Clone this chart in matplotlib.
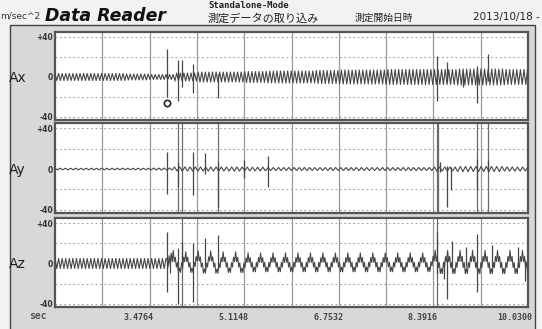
import numpy as np
import matplotlib
matplotlib.use("Agg")
import matplotlib.pyplot as plt
from matplotlib.patches import Rectangle

# ---- time axis (seconds) ----
t_start, t_end = 1.8380, 10.0300
tick_values = [3.4764, 5.1148, 6.7532, 8.3916, 10.0300]
tick_labels = ["3.4764", "5.1148", "6.7532", "8.3916", "10.0300"]
n_div = 10
y_ticks = [40, 0, -40]
y_tick_labels = ["+40", "0", "-40"]

# ---- vibration amplitude per half-division segment (m/s^2) ----
ax_amp = [3.5, 3.5, 3.5, 3.0, 2.5, 4.0, 5.0, 5.0, 5.5, 6.0,
          6.0, 6.5, 7.0, 7.0, 7.5, 7.5, 7.5, 8.0, 8.0, 7.5]
ay_amp = [0.8, 0.8, 0.8, 0.8, 1.0, 2.0, 2.0, 2.0, 1.8, 1.5,
          1.5, 1.5, 1.5, 1.5, 1.5, 1.5, 2.0, 2.5, 2.5, 2.0]
az_amp = [5.0, 5.0, 5.0, 5.0, 5.0, 3.5, 3.5, 3.5, 3.5, 3.5,
          3.5, 3.5, 3.5, 3.5, 3.5, 3.5, 4.0, 4.0, 4.0, 4.0]
az_swell = [0, 0, 0, 0, 0, 8, 9, 8, 7, 7,
            7, 7, 7, 7, 7, 7, 9, 9, 9, 9]
event_time = 3.778

# ---- transient spikes: (time, peak up, peak down) ----
ax_spikes = [(3.778, 28, -20), (3.968, 17, -24), (4.037, 17, -10), (4.228, 13, -16),
             (4.661, 3, -21), (8.454, 21, -24), (8.627, 15, -5), (8.904, 4, -10),
             (9.147, 11, -26), (9.337, 23, -4)]
ay_spikes = [(3.778, 17, -24), (3.968, 7, -18), (4.228, 17, -25), (4.436, 16, -5),
             (4.661, 7, -37), (5.111, 9, -9), (5.527, 13, -18), (8.506, 7, -3),
             (8.627, 3, -37), (8.696, 2, -21), (9.147, 10, -21), (9.337, 9, -3)]
az_spikes = [(3.778, 31, -28), (3.830, 5, -9), (3.968, 15, -40), (4.037, 21, -5),
             (4.228, 20, -38), (4.436, 25, -5), (4.661, 28, -5), (8.454, 31, -10),
             (8.575, 2, -15), (8.627, 5, -35), (8.714, 22, -3), (8.956, 16, -3),
             (9.147, 29, -28), (9.406, 18, -3), (9.857, 16, -3), (9.978, 3, -17)]
# samples that went off scale (drawn across the full panel height)
ay_clipped = [3.968, 4.037, 4.661, 8.454, 8.470, 9.147, 9.337]
az_clipped = [4.037, 8.454]
marker_point = (3.778, -26)

fine_half = 0.031    # half period of the fast vibration
busy_half = 0.018    # half period of the dense vibration on Az after the event
slow_half = 0.108    # half period of the slow swell on Az
seg_len = (t_end - t_start) / 20

W, H = 542, 329
fig = plt.figure(figsize=(W / 100, H / 100), dpi=100)
fig.patch.set_facecolor("#f2f2f2")

def fx(px):
    return px / W

def fy(py):
    return 1 - py / H

# gray body with frame
fig.patches.append(Rectangle((fx(10), -0.01), fx(525), fy(25) + 0.01, transform=fig.transFigure,
                             facecolor="#d8d8d8", edgecolor="#444444", lw=1.0, zorder=-10))

LINE = "#474747"

def seg_of(t):
    return np.minimum(((t - t_start) / seg_len).astype(int), 19)

def trace(amp, swell=None, half=fine_half, t0=t_start, t1=t_end):
    t = np.arange(t0, t1 + 1e-9, half)
    k = np.arange(len(t))
    y = np.where(k % 2 == 0, 1.0, -1.0) * np.asarray(amp)[seg_of(t)]
    if swell is not None:
        # swell crests alternate up/down every slow half period
        ts = np.arange(t0, t1 + slow_half, slow_half)
        ks = np.arange(len(ts))
        ys = np.where(ks % 2 == 0, -1.0, 1.0) * np.asarray(swell)[seg_of(np.minimum(ts, t_end))]
        ys[0] = 0.0
        y = y + np.interp(t, ts, ys)
    return t, y

tz1, yz1 = trace(az_amp, t1=event_time)
tz2, yz2 = trace(az_amp, az_swell, half=busy_half, t0=event_time)
az_trace = (np.concatenate([tz1, tz2]), np.concatenate([yz1, yz2]))

panels = [
    ("Ax", (32, 120), trace(ax_amp), ax_spikes, []),
    ("Ay", (123, 213), trace(ay_amp, half=0.045), ay_spikes, ay_clipped),
    ("Az", (218, 307), az_trace, az_spikes, az_clipped),
]

axes = []
for name, (top, bot), (t, y), spikes, clipped in panels:
    a = fig.add_axes([fx(55), fy(bot), fx(528 - 55), (bot - top) / H])
    a.set_facecolor("white")
    a.set_xlim(t_start, t_end)
    a.set_ylim(-43, 45)
    div = (t_end - t_start) / n_div
    for i in range(1, n_div):
        a.axvline(t_start + i * div, color="#9a9a9a", lw=0.9, zorder=1)
    for v in (40, 20, -20, -40):
        a.axhline(v, color="#a0a0a0", lw=0.8, ls=(0, (1.5, 2.5)), zorder=1)
    if clipped:
        a.vlines(clipped, -60, 60, color="#6a6a6a", lw=0.9, zorder=2)
    a.plot(t, y, color=LINE, lw=0.8, zorder=3)
    st = [s[0] for s in spikes]
    a.vlines(st, [s[2] for s in spikes], [s[1] for s in spikes], color=LINE, lw=0.9, zorder=3)
    for sp in a.spines.values():
        sp.set_color("#555555")
        sp.set_linewidth(1.6)
    a.set_xticks([])
    a.set_yticks(y_ticks)
    a.set_yticklabels(y_tick_labels, fontsize=5.5, fontweight="bold", color="#333333",
                      family="DejaVu Sans")
    a.tick_params(axis="y", length=0, pad=1.5)
    a.text(-0.098, 0.48, name, transform=a.transAxes, fontsize=10, color="#222222",
           ha="left", va="center")
    axes.append(a)

# circled reference point on Ax
axes[0].plot([marker_point[0]], [marker_point[1]], marker="o", ms=4.5, mfc="white",
             mec="#222222", mew=1.2, zorder=4)

# x tick labels under the bottom panel
for v, lab in zip(tick_values, tick_labels):
    fig.text(fx(55 + (v - t_start) / (t_end - t_start) * 473) + 0.008, fy(317), lab,
             ha="right", va="center", fontsize=6, family="DejaVu Sans Mono",
             fontweight="bold", color="#444444")
fig.text(fx(38), fy(316), "sec", ha="center", va="center", fontsize=7,
         family="DejaVu Sans Mono", fontweight="bold", color="#555555")

# header
fig.text(fx(0), fy(16), "m/sec^2", ha="left", va="center", fontsize=6.5, color="#333333")
fig.text(fx(45), fy(16), "Data Reader", ha="left", va="center", fontsize=12.5,
         fontweight="bold", style="italic", color="#111111")
fig.text(fx(208), fy(6), "Standalone-Mode", ha="left", va="center", fontsize=6.5,
         family="DejaVu Sans Mono", fontweight="bold", color="#222222")
fig.text(fx(208), fy(18), "測定データの取り込み", ha="left", va="center", fontsize=8,
         family=["Noto Sans CJK JP", "DejaVu Sans"], color="#222222")
fig.text(fx(355), fy(18), "測定開始日時", ha="left", va="center", fontsize=7,
         family=["Noto Sans CJK JP", "DejaVu Sans"], color="#222222")
fig.text(fx(540), fy(17), "2013/10/18 -", ha="right", va="center", fontsize=7.5,
         color="#222222")

fig.savefig("out.png", dpi=100, facecolor=fig.get_facecolor())
